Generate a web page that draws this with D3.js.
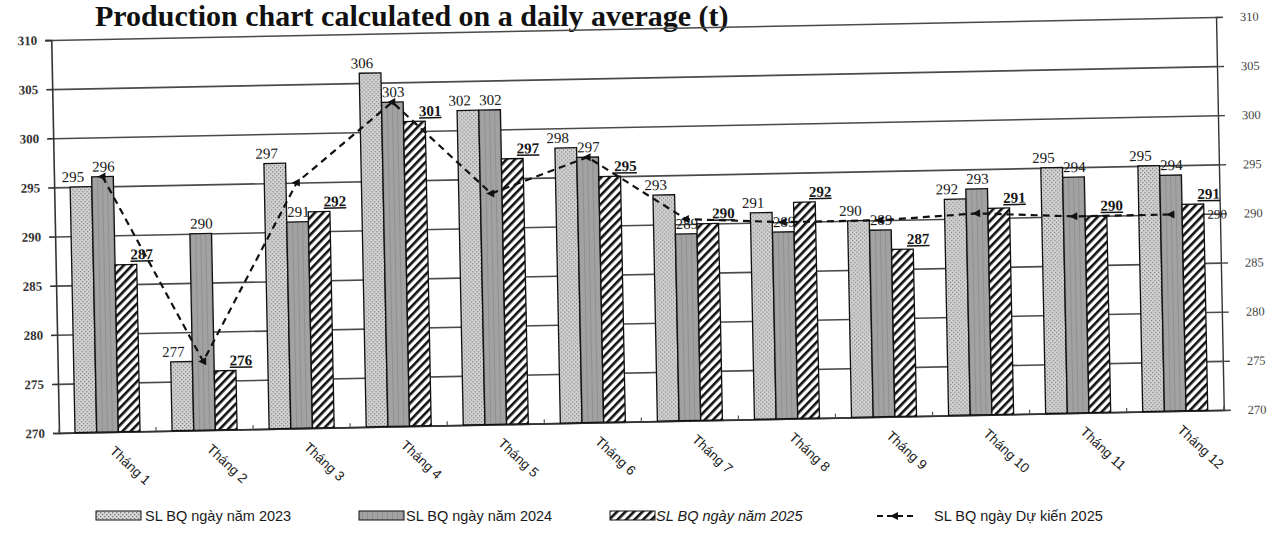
<!DOCTYPE html>
<html>
<head>
<meta charset="utf-8">
<script src="https://cdn.jsdelivr.net/npm/d3@7"></script>
<style>
  html, body { margin: 0; padding: 0; background: #fff; }
  svg { display: block; }
</style>
</head>
<body>
<svg id="chart" width="1280" height="545"></svg>
<script>
// Daily average output by month (t)
const months = ["Tháng 1", "Tháng 2", "Tháng 3", "Tháng 4", "Tháng 5", "Tháng 6",
                "Tháng 7", "Tháng 8", "Tháng 9", "Tháng 10", "Tháng 11", "Tháng 12"];
const avg2023 = [295, 277, 297, 306, 302, 298, 293, 291, 290, 292, 295, 295];
const avg2024 = [296, 290, 291, 303, 302, 297, 289, 289, 289, 293, 294, 294];
const avg2025 = [287, 276, 292, 301, 297, 295, 290, 292, 287, 291, 290, 291];
const plan2025 = [296, 277, 295, 303, 293.5, 297, 290.5, 290, 290, 290.5, 290, 290];
const yTicks = [270, 275, 280, 285, 290, 295, 300, 305, 310];
const seriesNames = ["SL BQ ngày năm 2023", "SL BQ ngày năm 2024", "SL BQ ngày năm 2025", "SL BQ ngày Dự kiến 2025"];
const titleText = "Production chart calculated on a daily average (t)";

const svg = d3.select("#chart");
const plotLeft = 55, plotRight = 1220, plotTop = 28.5, plotBottom = 421.5;
const skew = -1.13; // the printed page sits slightly askew

// ---- fill patterns ----
const defs = svg.append("defs");
const dots = defs.append("pattern").attr("id", "fill2023")
  .attr("patternUnits", "userSpaceOnUse").attr("width", 4).attr("height", 4);
dots.append("rect").attr("width", 4).attr("height", 4).attr("fill", "#d6d6d6");
dots.append("rect").attr("x", 0).attr("y", 0).attr("width", 1.3).attr("height", 1.3).attr("fill", "#7c7c7c");
dots.append("rect").attr("x", 2).attr("y", 2).attr("width", 1.3).attr("height", 1.3).attr("fill", "#7c7c7c");

const grey = defs.append("pattern").attr("id", "fill2024")
  .attr("patternUnits", "userSpaceOnUse").attr("width", 5).attr("height", 5);
grey.append("rect").attr("width", 5).attr("height", 5).attr("fill", "#a2a2a2");
grey.append("rect").attr("x", 2).attr("width", 1).attr("height", 5).attr("fill", "#909090");

const hatch = defs.append("pattern").attr("id", "fill2025")
  .attr("patternUnits", "userSpaceOnUse").attr("width", 6).attr("height", 6)
  .attr("patternTransform", "rotate(45)");
hatch.append("rect").attr("width", 6).attr("height", 6).attr("fill", "#fff");
hatch.append("rect").attr("width", 2.6).attr("height", 6).attr("fill", "#111");

const fills = ["url(#fill2023)", "url(#fill2024)", "url(#fill2025)"];
const seriesValues = [avg2023, avg2024, avg2025];

// ---- title ----
svg.append("text")
  .attr("x", 95).attr("y", 26)
  .attr("font-family", "'Liberation Serif', 'Times New Roman', serif")
  .attr("font-weight", "bold").attr("font-size", 30).attr("fill", "#111")
  .text(titleText);

// ---- plot area ----
const plot = svg.append("g")
  .attr("transform", `rotate(${skew} ${(plotLeft + plotRight) / 2} ${(plotTop + plotBottom) / 2})`);

const x0 = d3.scaleBand().domain(months).range([plotLeft, plotRight])
  .paddingInner(0.33).paddingOuter(0.165);
const x1 = d3.scaleBand().domain([0, 1, 2]).range([0, x0.bandwidth()]);
const y = d3.scaleLinear().domain([270, 310]).range([plotBottom, plotTop]);

// horizontal gridlines
plot.append("g")
  .attr("transform", `translate(${plotLeft},0)`)
  .call(d3.axisRight(y).tickValues(yTicks).tickSize(plotRight - plotLeft).tickFormat(""))
  .call(g => g.select(".domain").remove())
  .call(g => g.selectAll("line").attr("stroke", "#4a4a4a").attr("stroke-width", 1.6));

// left axis
plot.append("g")
  .attr("transform", `translate(${plotLeft},0)`)
  .call(d3.axisLeft(y).tickValues(yTicks).tickSize(6).tickPadding(8))
  .call(g => g.select(".domain").attr("stroke", "#333").attr("stroke-width", 1.6))
  .call(g => g.selectAll("line").attr("stroke", "#333").attr("stroke-width", 1.6))
  .call(g => g.selectAll("text")
    .attr("font-family", "'Liberation Serif', 'Times New Roman', serif")
    .attr("font-size", 13).attr("font-weight", "bold").attr("fill", "#333"));

// right axis
plot.append("g")
  .attr("transform", `translate(${plotRight},0)`)
  .call(d3.axisRight(y).tickValues(yTicks).tickSize(7).tickPadding(17))
  .call(g => g.select(".domain").attr("stroke", "#333").attr("stroke-width", 1.4))
  .call(g => g.selectAll("line").attr("stroke", "#444").attr("stroke-width", 1.4))
  .call(g => g.selectAll("text")
    .attr("font-family", "'Liberation Serif', 'Times New Roman', serif")
    .attr("font-size", 12.5).attr("fill", "#444"));

// bottom axis with month names
const xAxis = plot.append("g")
  .attr("transform", `translate(0,${plotBottom})`)
  .call(d3.axisBottom(x0).tickSize(0).tickPadding(0))
  .call(g => g.select(".domain").attr("stroke", "#333").attr("stroke-width", 1.8));
xAxis.selectAll("text")
  .attr("y", 0).attr("dy", 0)
  .attr("transform", "translate(1,20) rotate(44)")
  .style("text-anchor", "start")
  .attr("font-family", "'Liberation Sans', Arial, sans-serif")
  .attr("font-size", 13.5).attr("fill", "#1a1a1a");

// category separators on the baseline
const step = x0.step();
plot.append("g").selectAll("line")
  .data(d3.range(months.length + 1))
  .join("line")
  .attr("x1", i => plotLeft + i * step).attr("x2", i => plotLeft + i * step)
  .attr("y1", plotBottom).attr("y2", plotBottom - 4)
  .attr("stroke", "#555").attr("stroke-width", 1.2);

// bars
const groups = plot.append("g").selectAll("g")
  .data(months)
  .join("g")
  .attr("transform", m => `translate(${x0(m)},0)`);

groups.selectAll("rect")
  .data((m, i) => seriesValues.map((vals, s) => ({ s, v: vals[i] })))
  .join("rect")
  .attr("x", d => x1(d.s))
  .attr("y", d => y(d.v))
  .attr("width", x1.bandwidth())
  .attr("height", d => y(270) - y(d.v))
  .attr("fill", d => fills[d.s])
  .attr("stroke", "#111").attr("stroke-width", 1.3);

// value labels
const labelDx = [-8, 1, 16];
groups.selectAll("text.val")
  .data((m, i) => seriesValues.map((vals, s) => ({ s, v: vals[i] })))
  .join("text")
  .attr("class", "val")
  .attr("x", d => x1(d.s) + x1.bandwidth() / 2 + labelDx[d.s])
  .attr("y", d => y(d.v) - 5)
  .attr("text-anchor", "middle")
  .attr("font-family", "'Liberation Serif', 'Times New Roman', serif")
  .attr("font-size", 15)
  .attr("font-weight", d => d.s === 2 ? "bold" : "normal")
  .attr("text-decoration", d => d.s === 2 ? "underline" : "none")
  .attr("fill", "#151515")
  .text(d => d3.format("d")(d.v));

// planned line
const px = (d, i) => x0(months[i]) + x0.bandwidth() / 2;
plot.append("path")
  .datum(plan2025)
  .attr("fill", "none")
  .attr("stroke", "#111")
  .attr("stroke-width", 2.2)
  .attr("stroke-dasharray", "7,5")
  .attr("d", d3.line().x(px).y(d => y(d)));

const marker = "M-5,0 L3,-4 L3,4 Z";
plot.append("g").selectAll("path")
  .data(plan2025)
  .join("path")
  .attr("d", marker)
  .attr("transform", (d, i) => `translate(${px(d, i)},${y(d)})`)
  .attr("fill", "#111");

// label on the last planned point
const lastIdx = plan2025.length - 1;
plot.append("text")
  .attr("x", px(plan2025[lastIdx], lastIdx) + 36)
  .attr("y", y(plan2025[lastIdx]) + 5)
  .attr("font-family", "'Liberation Serif', 'Times New Roman', serif")
  .attr("font-size", 13).attr("fill", "#222")
  .text(d3.format("d")(plan2025[lastIdx]));

// ---- legend ----
const legend = svg.append("g").attr("transform", "translate(0,516)");
const legendPos = [
  { sx: 96, tx: 145 },
  { sx: 359, tx: 406 },
  { sx: 610, tx: 656 },
  { sx: 877, tx: 934 }
];
seriesNames.forEach((name, s) => {
  const p = legendPos[s];
  if (s < 3) {
    legend.append("rect")
      .attr("x", p.sx).attr("y", -5).attr("width", 45).attr("height", 9)
      .attr("fill", fills[s]).attr("stroke", "#111").attr("stroke-width", 1);
  } else {
    legend.append("line")
      .attr("x1", p.sx).attr("x2", p.sx + 36).attr("y1", 0).attr("y2", 0)
      .attr("stroke", "#111").attr("stroke-width", 2).attr("stroke-dasharray", "6,4");
    legend.append("path").attr("d", marker)
      .attr("transform", `translate(${p.sx + 18},0)`).attr("fill", "#111");
  }
  legend.append("text")
    .attr("x", p.tx).attr("y", 5)
    .attr("font-family", "'Liberation Sans', Arial, sans-serif")
    .attr("font-size", 14.5)
    .attr("font-style", s === 2 ? "italic" : "normal")
    .attr("fill", "#1a1a1a")
    .text(name);
});
</script>
</body>
</html>
